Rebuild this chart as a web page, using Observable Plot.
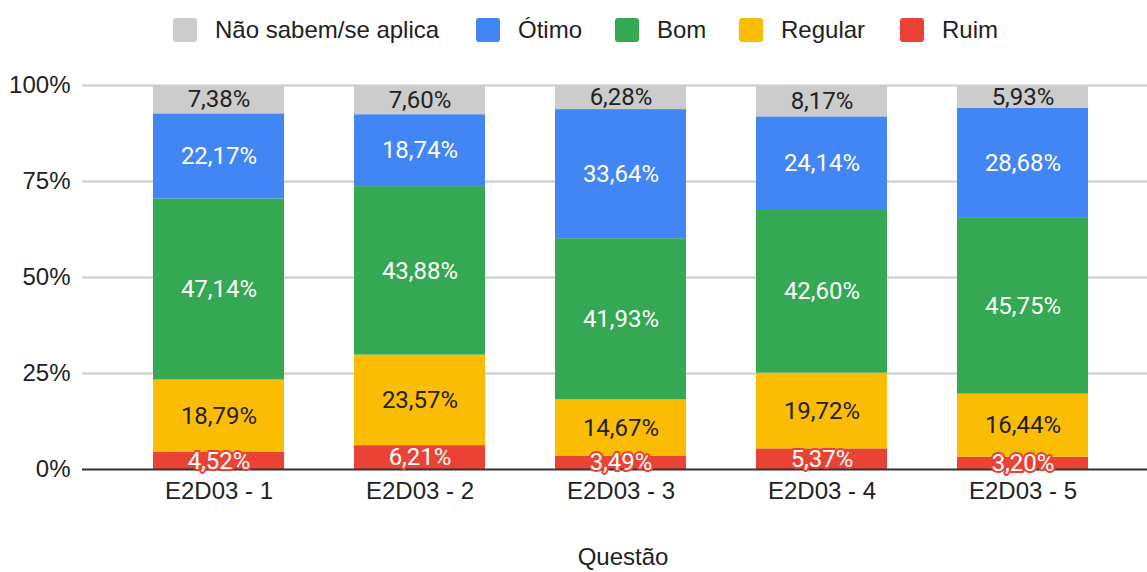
<!DOCTYPE html>
<html>
<head>
<meta charset="utf-8">
<script src="https://cdn.jsdelivr.net/npm/d3@7"></script>
<script src="https://cdn.jsdelivr.net/npm/@observablehq/plot@0.6"></script>
<style>
  html, body { margin: 0; padding: 0; background: #fff; }
  body { width: 1147px; height: 572px; overflow: hidden; font-family: "Liberation Sans", Arial, sans-serif; }
  #legend { height: 60px; position: relative; }
  .item { position: absolute; top: 16px; height: 28px; line-height: 28px; display: flex; align-items: center; font-family: "Liberation Sans", Arial, sans-serif; font-size: 24px; color: #222; }
  .sw { width: 24px; height: 24px; border-radius: 3px; margin-right: 18px; }
  svg { display: block; }
</style>
</head>
<body>
<div id="legend"></div>
<div id="chart"></div>
<script>
const questions = ["E2D03 - 1", "E2D03 - 2", "E2D03 - 3", "E2D03 - 4", "E2D03 - 5"];
const seriesNames = ["Ruim", "Regular", "Bom", "Ótimo", "Não sabem/se aplica"];
const legendOrder = ["Não sabem/se aplica", "Ótimo", "Bom", "Regular", "Ruim"];
const colors = {"Ruim": "#ea4335", "Regular": "#fbbc04", "Bom": "#34a853", "Ótimo": "#4285f4", "Não sabem/se aplica": "#cccccc"};
const ruim    = [4.52, 6.21, 3.49, 5.37, 3.20];
const regular = [18.79, 23.57, 14.67, 19.72, 16.44];
const bom     = [47.14, 43.88, 41.93, 42.60, 45.75];
const otimo   = [22.17, 18.74, 33.64, 24.14, 28.68];
const naoSabem = [7.38, 7.60, 6.28, 8.17, 5.93];
const yTicks = [0, 25, 50, 75, 100];

const valuesBySeries = {"Ruim": ruim, "Regular": regular, "Bom": bom, "Ótimo": otimo, "Não sabem/se aplica": naoSabem};
const data = [];
for (const s of seriesNames) {
  questions.forEach((q, i) => data.push({q, series: s, value: valuesBySeries[s][i]}));
}
const fmt = v => v.toFixed(2).replace(".", ",") + "%";

// legend
const legendX = [173, 476, 615, 739, 900];
const leg = document.getElementById("legend");
legendOrder.forEach((s, i) => {
  const el = document.createElement("div");
  el.className = "item";
  el.style.left = legendX[i] + "px";
  el.innerHTML = `<div class="sw" style="background:${colors[s]}"></div><span>${s}</span>`;
  leg.appendChild(el);
});

const stackOpts = {x: "q", y: "value", z: "series", order: seriesNames};
const labelMark = (which, fill, stroke) => Plot.text(data, Plot.stackY({
  ...stackOpts,
  text: d => which.includes(d.series) ? fmt(d.value) : "",
  fill, stroke, strokeWidth: stroke ? 4 : 0,
  fontSize: 24, fontFamily: "Roboto, sans-serif"
}));

const chart = Plot.plot({
  width: 1147,
  height: 512,
  marginLeft: 82,
  marginRight: 0,
  marginTop: 25,
  marginBottom: 103,
  style: {fontFamily: "'Liberation Sans', Arial, sans-serif", fontSize: "24px", color: "#222", background: "#fff"},
  x: {domain: questions, range: [80, 1160], paddingInner: 0.35, paddingOuter: 0.352, label: null, axis: null},
  y: {domain: [0, 100], ticks: yTicks, label: null, axis: null},
  marks: [
    Plot.ruleY(yTicks.filter(t => t > 0), {stroke: "#cccccc", strokeWidth: 2}),
    Plot.barY(data, Plot.stackY({...stackOpts, fill: d => colors[d.series]})),
    Plot.ruleY([0], {stroke: "#333333", strokeWidth: 2}),
    Plot.axisY(yTicks, {tickSize: 0, tickPadding: 12, tickFormat: d => d + "%", fontSize: 24, fill: "#222", label: null}),
    Plot.axisX(questions, {tickSize: 0, tickPadding: 12, fontSize: 24, fill: "#222", label: null}),
    Plot.text(["Questão"], {frameAnchor: "bottom", dy: 95, dx: 8, fontSize: 24, fill: "#222", fontFamily: "'Liberation Sans', Arial, sans-serif"}),
    labelMark(["Não sabem/se aplica", "Regular"], "#222", null),
    labelMark(["Ótimo", "Bom"], "#ffffff", null),
    labelMark(["Ruim"], "#ffffff", "#ea4335")
  ]
});
document.getElementById("chart").appendChild(chart);
</script>
</body>
</html>
